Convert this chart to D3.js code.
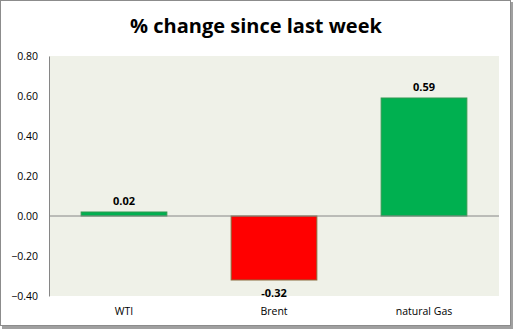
<!DOCTYPE html>
<html>
<head>
<meta charset="utf-8">
<script src="https://cdn.jsdelivr.net/npm/d3@7"></script>
<style>
  html, body { margin: 0; padding: 0; background: #fff; }
  svg { display: block; }
</style>
</head>
<body>
<script>
// Weekly percentage change per commodity
const categories = ["WTI", "Brent", "natural Gas"];
const changes = [0.02, -0.32, 0.59];
const yTicks = [-0.40, -0.20, 0.00, 0.20, 0.40, 0.60, 0.80];

const W = 514, H = 329;
const plot = { left: 49, right: 499, top: 56, bottom: 296 };

const svg = d3.select("body").append("svg")
  .attr("width", W).attr("height", H);

// chart frame with a soft drop shadow on the right/bottom
svg.append("rect").attr("x", 0).attr("y", 0).attr("width", W).attr("height", H).attr("fill", "#fff");
svg.append("rect").attr("x", 2).attr("y", 2).attr("width", W - 3).attr("height", H - 2).attr("fill", "#a0a0a0");
svg.append("rect").attr("x", 0.5).attr("y", 0.5).attr("width", W - 4).attr("height", H - 4)
  .attr("fill", "#fff").attr("stroke", "#8c8c8c").attr("stroke-width", 1);

const x = d3.scaleBand().domain(categories).range([plot.left, plot.right])
  .paddingInner(0.75 / 1.75).paddingOuter(0.75 / 1.75 / 2);
const y = d3.scaleLinear().domain([-0.4, 0.8]).range([plot.bottom, plot.top]);

// plot area
svg.append("rect")
  .attr("x", plot.left).attr("y", plot.top)
  .attr("width", plot.right - plot.left).attr("height", plot.bottom - plot.top)
  .attr("fill", "#eff1e8");

// y axis
const yAxis = d3.axisLeft(y).tickValues(yTicks).tickFormat(d3.format(".2f")).tickSize(0).tickPadding(11);
const gy = svg.append("g").attr("transform", `translate(${plot.left},0)`).call(yAxis);
gy.select(".domain").attr("stroke", "#868686");
gy.selectAll("text").attr("font-family", "'Open Sans', sans-serif").attr("font-size", 10.5).attr("fill", "#000");

// bars
svg.append("g").selectAll("rect").data(categories).join("rect")
  .attr("x", d => x(d))
  .attr("width", x.bandwidth())
  .attr("y", (d, i) => y(Math.max(0, changes[i])))
  .attr("height", (d, i) => Math.abs(y(changes[i]) - y(0)))
  .attr("fill", (d, i) => changes[i] < 0 ? "#ff0000" : "#00b050")
  .attr("stroke", (d, i) => changes[i] < 0 ? "#8a6b3c" : "#2f9a50")
  .attr("stroke-width", 1);

// zero line
svg.append("line")
  .attr("x1", plot.left).attr("x2", plot.right)
  .attr("y1", y(0)).attr("y2", y(0))
  .attr("stroke", "#868686").attr("stroke-width", 1);

// value labels
svg.append("g").selectAll("text").data(categories).join("text")
  .attr("x", d => x(d) + x.bandwidth() / 2)
  .attr("y", (d, i) => changes[i] < 0 ? y(changes[i]) + 17 : y(changes[i]) - 7)
  .attr("text-anchor", "middle")
  .attr("font-family", "'Open Sans', sans-serif").attr("font-size", 11).attr("font-weight", "bold")
  .attr("fill", "#000")
  .text((d, i) => changes[i].toFixed(2));

// category labels
svg.append("g").selectAll("text").data(categories).join("text")
  .attr("x", d => x(d) + x.bandwidth() / 2)
  .attr("y", 315)
  .attr("text-anchor", "middle")
  .attr("font-family", "'Open Sans', sans-serif").attr("font-size", 10.5)
  .attr("fill", "#000")
  .text(d => d);

// title
svg.append("text")
  .attr("x", 256).attr("y", 33)
  .attr("text-anchor", "middle")
  .attr("font-family", "'Open Sans', sans-serif").attr("font-size", 20).attr("font-weight", "bold")
  .attr("fill", "#000")
  .text("% change since last week");
</script>
</body>
</html>
